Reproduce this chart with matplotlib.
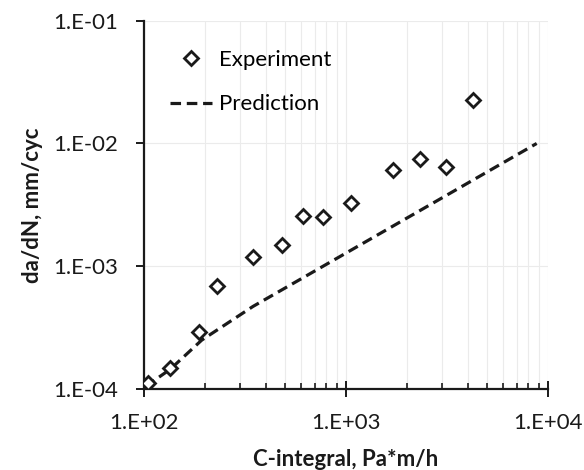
import math
import matplotlib
matplotlib.use("Agg")
import matplotlib.pyplot as plt
from matplotlib.ticker import LogLocator, FixedLocator, NullLocator, FuncFormatter

plt.rcParams['font.family'] = ['Lato', 'DejaVu Sans']

# experiment points
exp_x = [105, 134, 187, 229, 348, 481, 615, 767, 1057, 1706, 2323, 3124, 4266]
exp_y = [1.11e-4, 1.48e-4, 2.93e-4, 6.9e-4, 1.18e-3, 1.49e-3, 2.57e-3, 2.54e-3,
         3.30e-3, 6.08e-3, 7.48e-3, 6.47e-3, 2.26e-2]

# prediction curve
pred_x = [102, 135, 193, 346, 1000, 8790]
pred_y = [1.05e-4, 1.45e-4, 2.5e-4, 4.7e-4, 1.28e-3, 1.0e-2]

x_ticks = [1e2, 1e3, 1e4]
y_ticks = [1e-4, 1e-3, 1e-2, 1e-1]

fig = plt.figure(figsize=(5.84, 4.70), dpi=100)
ax = fig.add_axes([144/584, 1 - 389/470, 404/584, 368.3/470])

ax.plot(exp_x, exp_y, linestyle='none', marker='D', markersize=7,
        markerfacecolor='white', markeredgecolor='#1a1a1a', markeredgewidth=2.0,
        label='Experiment', zorder=3)
ax.plot(pred_x, pred_y, color='#1a1a1a', linewidth=2.3, linestyle=(0, (3.3, 1.8)),
        label='Prediction', zorder=2)

ax.set_xscale('log')
ax.set_yscale('log')
ax.set_xlim(1e2, 1e4)
ax.set_ylim(1e-4, 1e-1)

fmt = FuncFormatter(lambda v, p: "1.E%+03d" % round(math.log10(v)))
ax.xaxis.set_major_locator(FixedLocator(x_ticks))
ax.yaxis.set_major_locator(FixedLocator(y_ticks))
ax.xaxis.set_minor_locator(LogLocator(base=10, subs=range(2, 10)))
ax.yaxis.set_minor_locator(NullLocator())
ax.xaxis.set_major_formatter(fmt)
ax.yaxis.set_major_formatter(fmt)
ax.xaxis.set_minor_formatter(FuncFormatter(lambda v, p: ""))

ax.grid(True, which='major', color='#ebebeb', linewidth=0.8, zorder=0)
ax.grid(True, which='minor', axis='x', color='#ebebeb', linewidth=0.8, zorder=0)
ax.set_axisbelow(True)

for s in ['top', 'right']:
    ax.spines[s].set_visible(False)
for s in ['left', 'bottom']:
    ax.spines[s].set_linewidth(1.6)
    ax.spines[s].set_color('#1a1a1a')

ax.tick_params(axis='x', which='major', direction='inout', length=11, width=1.4,
               pad=11.5, labelsize=16, colors='#1a1a1a')
ax.tick_params(axis='x', which='minor', direction='in', length=4.3, width=1.2,
               colors='#1a1a1a')
ax.tick_params(axis='y', which='major', direction='out', length=5.5, width=1.4,
               pad=13, labelsize=16, colors='#1a1a1a')

ax.set_xlabel('C-integral, Pa*m/h', fontsize=16, fontweight='bold', color='#1a1a1a')
ax.set_ylabel('da/dN, mm/cyc', fontsize=16, fontweight='bold', color='#1a1a1a')
ax.xaxis.set_label_coords(0.5, -0.162)
ax.yaxis.set_label_coords(-0.25, 0.5)

ax.legend(loc='upper left', bbox_to_anchor=(170/584, 1 - 50/470),
          bbox_transform=fig.transFigure, frameon=False, fontsize=16,
          handlelength=1.9, handletextpad=0.3, labelspacing=1.1,
          borderpad=0, borderaxespad=0)

plt.savefig('out.png', dpi=100)
